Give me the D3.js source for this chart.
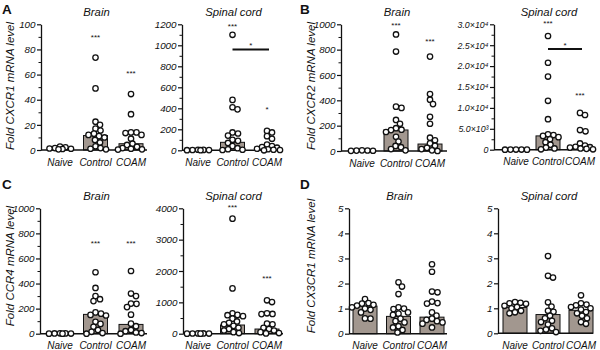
<!DOCTYPE html>
<html><head><meta charset="utf-8">
<script src="https://cdn.jsdelivr.net/npm/d3@7"></script>
<style>body{margin:0;background:#fff}text{font-family:"Liberation Sans",Arial,sans-serif}</style>
</head><body>
<svg id="c" width="600" height="350"></svg>
<script>
const groups = ["Naive", "Control", "COAM"];

// CXCR1
const cxcr1Brain = [
  [2.8, 2.2, 1.5, 1.2, 1, 0.8, 0.5],
  [73.5, 49, 22.5, 20, 17, 15.5, 13, 12, 11, 10, 8, 6, 3, 1.5, 1, 0.5],
  [44.5, 28.5, 14, 14, 13.5, 12, 9, 5, 4, 2.5, 1.5, 1, 0.5, 0.3]
];
const cxcr1BrainBars = [1, 11.5, 5];
const cxcr1Spinal = [
  [5, 4, 3, 2, 1, 1],
  [1100, 480, 410, 390, 170, 160, 140, 100, 90, 70, 40, 20, 10, 5, 3],
  [185, 170, 135, 110, 55, 40, 30, 25, 15, 10, 5, 3, 0]
];
const cxcr1SpinalBars = [2, 76, 25];

// CXCR2
const cxcr2Brain = [
  [5, 4, 3, 2, 1],
  [920, 785, 350, 340, 245, 215, 180, 168, 165, 150, 112, 75, 40, 30, 15, 5],
  [745, 450, 405, 370, 270, 215, 105, 85, 60, 42, 25, 15, 5, 0]
];
const cxcr2BrainBars = [2, 166, 55];
const cxcr2Spinal = [
  [40, 30, 20, 10, 5],
  [27200, 20800, 17500, 11700, 7300, 3700, 3500, 3300, 3000, 2500, 1800, 1200, 500, 300, 100],
  [8800, 8300, 4700, 4400, 1500, 1000, 700, 600, 500, 300, 200, 100]
];
const cxcr2SpinalBars = [20, 3300, 700];

// CCR4
const ccr4Brain = [
  [3, 2.5, 2, 1, 0.5, 0.2],
  [490, 365, 300, 275, 260, 170, 160, 150, 145, 95, 78, 55, 30, 15, 5, 0],
  [500, 320, 300, 240, 238, 212, 152, 80, 60, 30, 20, 10, 5, 0]
];
const ccr4BrainBars = [1, 154, 74];
const ccr4Spinal = [
  [10, 8, 6, 4, 2, 1],
  [3670, 1445, 650, 600, 590, 560, 480, 390, 350, 300, 250, 190, 150, 100, 50, 20],
  [1065, 1010, 650, 630, 625, 320, 300, 190, 150, 100, 50, 20, 10]
];
const ccr4SpinalBars = [3, 277, 149];

// CX3CR1
const cx3cr1Brain = [
  [1.38, 1.22, 1.2, 1.15, 1.12, 1.05, 1.0, 0.95, 0.85, 0.61, 0.6],
  [2.05, 1.88, 1.58, 1.05, 1.0, 0.98, 0.85, 0.8, 0.75, 0.6, 0.5, 0.45, 0.3, 0.25, 0.15, 0.05],
  [2.77, 2.47, 1.68, 1.65, 1.28, 1.22, 1.2, 0.85, 0.72, 0.6, 0.55, 0.5, 0.45, 0.4, 0.25]
];
const cx3cr1BrainBars = [1.1, 0.69, 0.66];
const cx3cr1Spinal = [
  [1.25, 1.22, 1.2, 1.18, 1.1, 1.05, 1.0, 0.9, 0.84, 0.8],
  [3.09, 2.3, 2.23, 1.24, 1.07, 0.9, 0.86, 0.7, 0.6, 0.5, 0.45, 0.35, 0.2, 0.15, 0.1, 0.05],
  [1.52, 1.2, 1.15, 1.12, 1.05, 1.0, 0.95, 0.85, 0.8, 0.7, 0.6, 0.45, 0.38]
];
const cx3cr1SpinalBars = [1.03, 0.75, 0.92];

// y tick values
const ticksA1 = [0, 20, 40, 60, 80, 100];
const ticksA2 = [0, 200, 400, 600, 800, 1000, 1200];
const ticksB1 = [0, 200, 400, 600, 800, 1000];
const ticksB2 = [0, 5000, 10000, 15000, 20000, 25000, 30000];
const ticksB2Labels = ["0", "5.0×10³", "1.0×10⁴", "1.5×10⁴", "2.0×10⁴", "2.5×10⁴", "3.0×10⁴"];
const ticksC1 = [0, 200, 400, 600, 800, 1000];
const ticksC2 = [0, 1000, 2000, 3000, 4000];
const ticksD = [0, 1, 2, 3, 4, 5];

// significance marks: [group index, y value, text]
const starsA1 = [[1, 91, "***"], [2, 62, "***"]];
const starsA2 = [[1, 1195, "***"], [2, 405, "*"]];
const starsB1 = [[1, 1005, "***"], [2, 880, "***"]];
const starsB2 = [[1, 30500, "***"], [2, 13300, "***"]];
const starsC1 = [[1, 730, "***"], [2, 730, "***"]];
const starsC2 = [[1, 4060, "***"], [2, 1800, "***"]];
const sigA2 = [1, 2, 960, 1015];      // from group, to group, line value, star value
const sigB2 = [1, 2, 24100, 25400];

const panels = [
  {data: cxcr1Brain, bars: cxcr1BrainBars, ticks: ticksA1, minor: 10, max: 100, title: "Brain", stars: starsA1,
   x0: 41, x1: 147, c0: 60, c2: 131, yTop: 24.3, yBot: 150},
  {data: cxcr1Spinal, bars: cxcr1SpinalBars, ticks: ticksA2, minor: 100, max: 1200, title: "Spinal cord", stars: starsA2, sig: sigA2,
   x0: 182, x1: 283, c0: 198, c2: 267, yTop: 24.3, yBot: 150.3},
  {data: cxcr2Brain, bars: cxcr2BrainBars, ticks: ticksB1, minor: 100, max: 1000, title: "Brain", stars: starsB1,
   x0: 341, x1: 447, c0: 362, c2: 430, yTop: 24.3, yBot: 151},
  {data: cxcr2Spinal, bars: cxcr2SpinalBars, ticks: ticksB2, labels: ticksB2Labels, minor: 2500, max: 30000, title: "Spinal cord", stars: starsB2, sig: sigB2,
   x0: 494, x1: 593, c0: 516, c2: 580, yTop: 24.3, yBot: 149.7, small: true},
  {data: ccr4Brain, bars: ccr4BrainBars, ticks: ticksC1, minor: 100, max: 1000, title: "Brain", stars: starsC1,
   x0: 40, x1: 147, c0: 60, c2: 131, yTop: 208.3, yBot: 333.7},
  {data: ccr4Spinal, bars: ccr4SpinalBars, ticks: ticksC2, minor: 500, max: 4000, title: "Spinal cord", stars: starsC2,
   x0: 183, x1: 283, c0: 198, c2: 267, yTop: 208.3, yBot: 333.7},
  {data: cx3cr1Brain, bars: cx3cr1BrainBars, ticks: ticksD, minor: null, max: 5, title: "Brain", stars: [],
   x0: 349, x1: 447, c0: 365, c2: 432, yTop: 208.3, yBot: 333.7},
  {data: cx3cr1Spinal, bars: cx3cr1SpinalBars, ticks: ticksD, minor: null, max: 5, title: "Spinal cord", stars: [],
   x0: 498, x1: 593, c0: 515, c2: 581, yTop: 208.3, yBot: 333.3}
];

const rowLabels = [
  {letter: "A", lx: 2, ly: 14, label: "Fold CXCR1 mRNA level", yx: 13.5, yy: 86},
  {letter: "B", lx: 300, ly: 14, label: "Fold CXCR2 mRNA level", yx: 314.5, yy: 86},
  {letter: "C", lx: 2, ly: 189, label: "Fold CCR4 mRNA level", yx: 13.5, yy: 266},
  {letter: "D", lx: 300, ly: 189, label: "Fold CX3CR1 mRNA level", yx: 314.5, yy: 266}
];

const svg = d3.select("#c");
const R = 2.7;
const barFill = "#a2978f";

function swarm(values, xc, y, r, maxW) {
  const pts = values.map(v => ({v, y: y(v)})).sort((a, b) => a.y - b.y);
  const placed = [];
  const minD = 2 * r * 0.97;
  const steps = Math.round(2 * maxW / 0.5);
  for (const p of pts) {
    let found = null, bestDx = 0, bestMin = -1;
    for (let k = 0; k <= steps; k++) {
      const dx = (k % 2 === 1 ? 1 : -1) * Math.ceil(k / 2) * 0.5;
      let m = Infinity;
      for (const q of placed) {
        const d = Math.hypot(xc + dx - q.x, p.y - q.y);
        if (d < m) m = d;
      }
      if (m >= minD) { found = dx; break; }
      if (m > bestMin) { bestMin = m; bestDx = dx; }
    }
    p.x = xc + (found !== null ? found : bestDx);
    placed.push(p);
  }
  return placed;
}

panels.forEach(p => {
  const g = svg.append("g");
  const y = d3.scaleLinear().domain([0, p.max]).range([p.yBot, p.yTop]);
  const x = d3.scalePoint().domain(groups).range([p.c0, p.c2]);
  const barW = 24;

  // bars
  g.selectAll("rect.bar").data(p.bars).join("rect")
    .attr("x", (d, i) => x(groups[i]) - barW / 2)
    .attr("y", d => y(d))
    .attr("width", barW)
    .attr("height", d => y(0) - y(d))
    .attr("fill", barFill).attr("stroke", "#111").attr("stroke-width", 1);

  // y axis
  const ax = d3.axisLeft(y).tickValues(p.ticks).tickSize(4).tickSizeOuter(0)
    .tickFormat((d, i) => p.labels ? p.labels[i] : d3.format("d")(d));
  const ag = g.append("g").attr("transform", `translate(${p.x0},0)`).call(ax);
  ag.select(".domain").attr("stroke", "#111").attr("stroke-width", 1.3);
  ag.selectAll(".tick line").attr("stroke", "#111").attr("stroke-width", 1.2);
  ag.selectAll(".tick text").attr("font-size", p.small ? 8.8 : 9.8).attr("font-style", "italic")
    .attr("font-family", '"Liberation Sans",Arial,sans-serif').attr("fill", "#111").attr("x", -5.5);
  if (p.minor) {
    const minorVals = d3.range(p.minor, p.max, p.minor).filter(v => !p.ticks.some(t => Math.abs(t - v) < 1e-9));
    g.append("g").attr("transform", `translate(${p.x0},0)`)
      .call(d3.axisLeft(y).tickValues(minorVals).tickSize(2.5).tickFormat(""))
      .call(s => s.select(".domain").remove())
      .selectAll(".tick line").attr("stroke", "#111").attr("stroke-width", 1);
  }

  // x axis line
  g.append("line").attr("x1", p.x0).attr("x2", p.x1).attr("y1", y(0)).attr("y2", y(0))
    .attr("stroke", "#111").attr("stroke-width", 1.6);

  // category labels
  g.selectAll("text.cat").data(groups).join("text")
    .attr("x", d => x(d)).attr("y", p.yBot + 15.5)
    .attr("text-anchor", "middle").attr("font-size", 10).attr("font-style", "italic").attr("fill", "#111")
    .text(d => d);

  // title
  g.append("text").attr("x", (p.c0 + p.c2) / 2 + 1).attr("y", p.yTop - 8)
    .attr("text-anchor", "middle").attr("font-size", 11.3).attr("font-style", "italic").attr("fill", "#111")
    .text(p.title);

  // points
  p.data.forEach((vals, i) => {
    const pts = swarm(vals, x(groups[i]), y, R, 13);
    g.selectAll(null).data(pts).join("circle")
      .attr("cx", d => d.x).attr("cy", d => d.y).attr("r", R)
      .attr("fill", "#fff").attr("stroke", "#111").attr("stroke-width", 1.3);
  });

  // stars
  g.selectAll(null).data(p.stars).join("text")
    .attr("x", d => x(groups[d[0]])).attr("y", d => y(d[1]) + 4)
    .attr("text-anchor", "middle").attr("font-size", 8).attr("fill", "#111")
    .text(d => d[2]);

  if (p.sig) {
    const [a, b, lv, sv] = p.sig;
    g.append("line").attr("x1", x(groups[a])).attr("x2", x(groups[b]) + 2)
      .attr("y1", y(lv)).attr("y2", y(lv)).attr("stroke", "#111").attr("stroke-width", 2);
    g.append("text").attr("x", (x(groups[a]) + x(groups[b])) / 2 + 1).attr("y", y(sv) + 4)
      .attr("text-anchor", "middle").attr("font-size", 8).attr("fill", "#111").text("*");
  }
});

rowLabels.forEach(r => {
  svg.append("text").attr("x", r.lx).attr("y", r.ly).attr("font-size", 13.5).attr("font-weight", "bold")
    .attr("fill", "#111").text(r.letter);
  svg.append("text").attr("transform", `translate(${r.yx},${r.yy}) rotate(-90)`)
    .attr("text-anchor", "middle").attr("font-size", 11.5).attr("font-style", "italic").attr("fill", "#111")
    .text(r.label);
});
</script>
</body></html>
